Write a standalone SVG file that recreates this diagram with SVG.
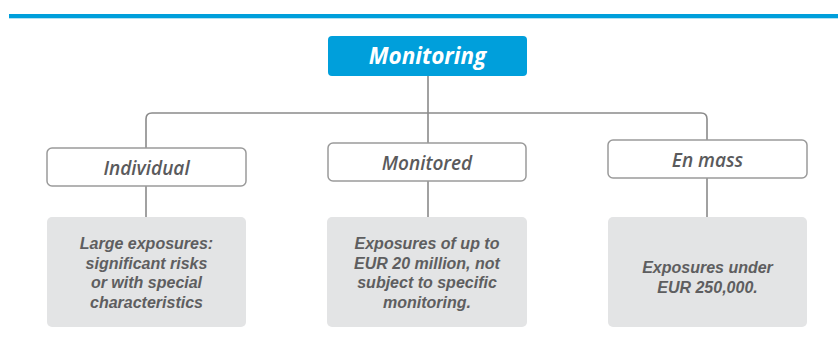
<svg xmlns="http://www.w3.org/2000/svg" width="838" height="350" viewBox="0 0 838 350">
<style>
.hdr{fill:#009fdb}
.cat{fill:#fff;stroke:#9a9a9a;stroke-width:1.5}
.det{fill:#e3e4e5}
.conn{fill:none;stroke:#8a8a8a;stroke-width:1.6}
.t1{font-family:"Open Sans","Noto Sans",sans-serif;font-style:italic;font-weight:700;font-size:22.5px;fill:#fff;text-anchor:middle}
.t2{font-family:"Open Sans","Noto Sans",sans-serif;font-style:italic;font-weight:600;font-size:19px;fill:#5a5a5c;text-anchor:middle}
.t3{font-family:"Liberation Sans",Arial,sans-serif;font-style:italic;font-weight:700;font-size:16px;fill:#5e5e60;text-anchor:middle}
</style>
<rect x="9" y="14" width="829" height="4.3" fill="#009fdb"/>
<g id="connectors">
<path class="conn" d="M428 76 V143"/>
<path class="conn" d="M146 148 V119 Q146 113 152 113 H701 Q707 113 707 119 V140"/>
<path class="conn" d="M146 186 V217"/>
<path class="conn" d="M428 181 V217"/>
<path class="conn" d="M707 178 V217"/>
</g>
<g id="monitoring">
<rect class="hdr" x="328" y="36" width="199" height="40" rx="4"/>
<text class="t1" x="427.5" y="64">Monitoring</text>
</g>
<g id="individual">
<rect class="cat" x="47" y="148" width="199" height="38" rx="5"/>
<text class="t2" x="146.5" y="174.5">Individual</text>
</g>
<g id="monitored">
<rect class="cat" x="328" y="143" width="198" height="38" rx="5"/>
<text class="t2" x="427" y="169.5">Monitored</text>
</g>
<g id="enmass">
<rect class="cat" x="608" y="140" width="199" height="38" rx="5"/>
<text class="t2" x="707.5" y="166.5">En mass</text>
</g>
<g id="individual-detail">
<rect class="det" x="47" y="217" width="199" height="110" rx="5"/>
<text class="t3" x="146.5" y="249">Large exposures:</text>
<text class="t3" x="146.5" y="268.5">significant risks</text>
<text class="t3" x="146.5" y="288">or with special</text>
<text class="t3" x="146.5" y="307.5">characteristics</text>
</g>
<g id="monitored-detail">
<rect class="det" x="327" y="217" width="200" height="110" rx="5"/>
<text class="t3" x="427" y="249">Exposures of up to</text>
<text class="t3" x="427" y="268.5">EUR 20 million, not</text>
<text class="t3" x="427" y="288">subject to specific</text>
<text class="t3" x="427" y="307.5">monitoring.</text>
</g>
<g id="enmass-detail">
<rect class="det" x="608" y="217" width="199" height="110" rx="5"/>
<text class="t3" x="707.5" y="273">Exposures under</text>
<text class="t3" x="707.5" y="292.5">EUR 250,000.</text>
</g>
</svg>
